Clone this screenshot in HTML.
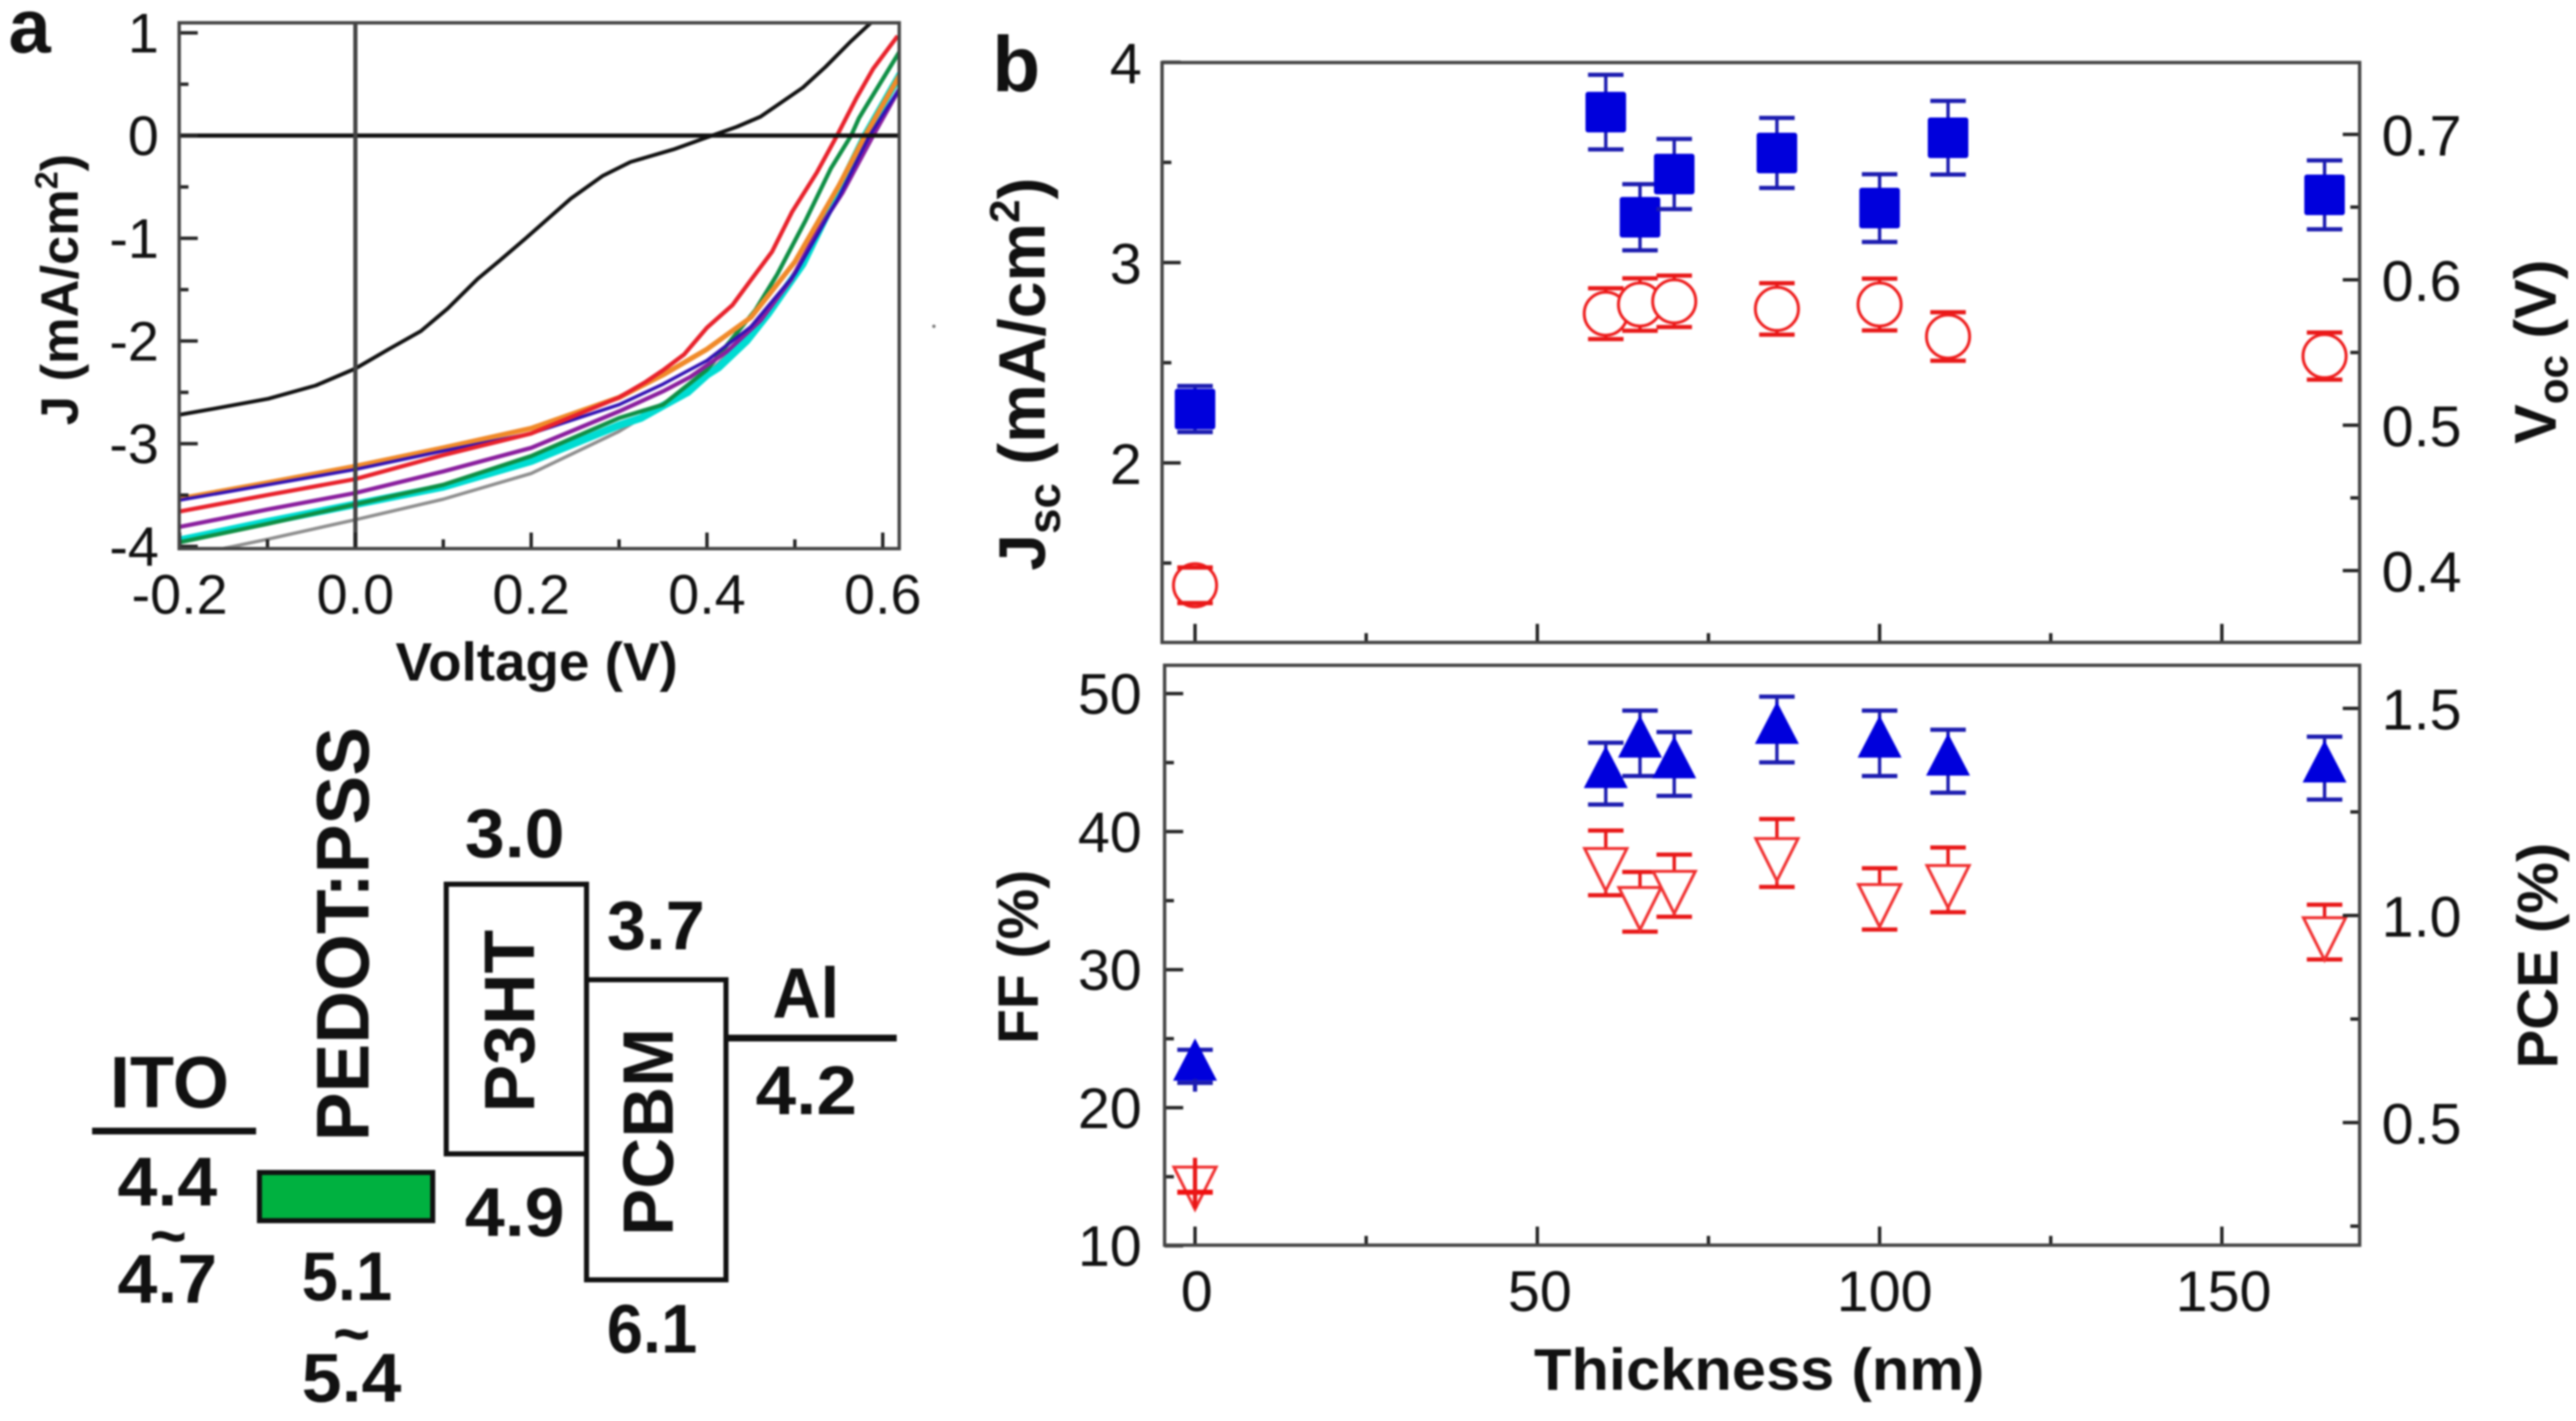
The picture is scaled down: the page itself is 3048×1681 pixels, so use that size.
<!DOCTYPE html>
<html lang="en">
<head>
<meta charset="utf-8">
<title>P3HT:PCBM device characteristics</title>
<style>
html,body{margin:0;padding:0;background:#fff;}
body{width:3048px;height:1681px;overflow:hidden;}
#chart{position:absolute;left:0;top:0;filter:blur(1.1px);}
text{font-family:"Liberation Sans",Arial,sans-serif;fill:#111;}
.b{font-weight:bold;}
</style>
</head>
<body>
<svg id="chart" xmlns="http://www.w3.org/2000/svg" width="3048" height="1681" viewBox="0 0 3048 1681">
  <rect width="3048" height="1681" fill="#fff"/>
  <defs>
    <clipPath id="clipA"><rect x="212" y="27" width="852" height="622"/></clipPath>
  </defs>

  <text class="b" x="10" y="62" font-size="90">a</text>
  <text class="b" x="1174" y="108" font-size="93">b</text>

  <g id="panelA"></g>
  <text class="b" x="468" y="805" font-size="64" textLength="334" lengthAdjust="spacingAndGlyphs">Voltage (V)</text>
  <text class="b" transform="translate(92,503) rotate(-90)" font-size="62">J (mA/cm<tspan dy="-24" font-size="38">2</tspan><tspan dy="24">)</tspan></text>

  <g id="panelB1"></g>
  <g id="panelB2"></g>

  <text class="b" transform="translate(1236,675) rotate(-90)" font-size="78">J<tspan dy="18" font-size="54">sc</tspan><tspan dy="-18"> (mA/cm</tspan><tspan dy="-30" font-size="50">2</tspan><tspan dy="30">)</tspan></text>
  <text class="b" transform="translate(3024,525) rotate(-90)" font-size="70">V<tspan dy="14" font-size="50">oc</tspan><tspan dy="-14"> (V)</tspan></text>
  <text class="b" transform="translate(1228,1235) rotate(-90)" font-size="68" textLength="206" lengthAdjust="spacingAndGlyphs">FF (%)</text>
  <text class="b" transform="translate(3026,1264) rotate(-90)" font-size="68" textLength="267" lengthAdjust="spacingAndGlyphs">PCE (%)</text>
  <text class="b" x="1815" y="1644" font-size="70" textLength="533" lengthAdjust="spacingAndGlyphs">Thickness (nm)</text>

  <circle cx="1105" cy="386" r="2" fill="#777"/>

  <g>
    <line x1="109" y1="1338" x2="303" y2="1338" stroke="#111" stroke-width="8"/>
    <text class="b" x="130" y="1310" font-size="86" textLength="141" lengthAdjust="spacingAndGlyphs">ITO</text>
    <text class="b" x="139" y="1426" font-size="82" textLength="118" lengthAdjust="spacingAndGlyphs">4.4</text>
    <text class="b" x="177" y="1489" font-size="80" textLength="44" lengthAdjust="spacingAndGlyphs">~</text>
    <text class="b" x="139" y="1541" font-size="82" textLength="118" lengthAdjust="spacingAndGlyphs">4.7</text>

    <rect x="307" y="1387" width="205" height="57" fill="#00b140" stroke="#111" stroke-width="6"/>
    <text class="b" transform="translate(436,1350) rotate(-90)" font-size="88" textLength="490" lengthAdjust="spacingAndGlyphs">PEDOT:PSS</text>
    <text class="b" x="357" y="1538" font-size="82" textLength="107" lengthAdjust="spacingAndGlyphs">5.1</text>
    <text class="b" x="394" y="1605" font-size="80" textLength="44" lengthAdjust="spacingAndGlyphs">~</text>
    <text class="b" x="357" y="1658" font-size="82" textLength="118" lengthAdjust="spacingAndGlyphs">5.4</text>

    <rect x="528" y="1046" width="166" height="319" fill="#fff" stroke="#111" stroke-width="6"/>
    <text class="b" transform="translate(632,1316) rotate(-90)" font-size="84" textLength="216" lengthAdjust="spacingAndGlyphs">P3HT</text>
    <text class="b" x="550" y="1014" font-size="82" textLength="118" lengthAdjust="spacingAndGlyphs">3.0</text>
    <text class="b" x="550" y="1462" font-size="82" textLength="118" lengthAdjust="spacingAndGlyphs">4.9</text>

    <rect x="694" y="1159" width="165" height="355" fill="#fff" stroke="#111" stroke-width="6"/>
    <text class="b" transform="translate(796,1462) rotate(-90)" font-size="84" textLength="246" lengthAdjust="spacingAndGlyphs">PCBM</text>
    <text class="b" x="718" y="1123" font-size="82" textLength="116" lengthAdjust="spacingAndGlyphs">3.7</text>
    <text class="b" x="718" y="1600" font-size="82" textLength="107" lengthAdjust="spacingAndGlyphs">6.1</text>

    <line x1="859" y1="1228" x2="1061" y2="1228" stroke="#111" stroke-width="8"/>
    <text class="b" x="914" y="1204" font-size="84" textLength="79" lengthAdjust="spacingAndGlyphs">Al</text>
    <text class="b" x="894" y="1318" font-size="82" textLength="120" lengthAdjust="spacingAndGlyphs">4.2</text>
  </g>
</svg>

<script>
// ---- Panel a data ----
const blackV = [-0.2,-0.16,-0.099,-0.045,0,0.038,0.0745,0.105,0.139,0.164,0.194,0.216,0.245,0.281,0.313,0.362,0.398,0.434,0.461,0.509,0.535,0.564,0.583,0.6];
const blackJ = [-2.718,-2.658,-2.562,-2.433,-2.268,-2.08,-1.904,-1.684,-1.396,-1.218,-0.998,-0.833,-0.614,-0.394,-0.257,-0.134,-0.024,0.086,0.184,0.467,0.67,0.92,1.07,1.2];
const orangeV = [-0.2,-0.1,0,0.1,0.2,0.3,0.35,0.4,0.45,0.5,0.55,0.58,0.62];
const orangeJ = [-3.536,-3.38,-3.22,-3.04,-2.85,-2.55,-2.33,-2.08,-1.77,-1.23,-0.49,0,0.6];
const indigoV = [-0.2,-0.1,0,0.1,0.2,0.3,0.35,0.4,0.45,0.5,0.55,0.585,0.62];
const indigoJ = [-3.55,-3.4,-3.25,-3.07,-2.9,-2.62,-2.42,-2.19,-1.86,-1.35,-0.6,0,0.47];
const redV = [-0.2,-0.1,0,0.1,0.2,0.3,0.33,0.35,0.374,0.4,0.429,0.448,0.474,0.497,0.525,0.548,0.57,0.589,0.617];
const redJ = [-3.66,-3.5,-3.344,-3.11,-2.9,-2.55,-2.4,-2.285,-2.13,-1.87,-1.65,-1.43,-1.13,-0.74,-0.36,0,0.365,0.65,0.97];
const purpleV = [-0.2,-0.1,0,0.1,0.2,0.3,0.35,0.381,0.423,0.461,0.496,0.525,0.554,0.589,0.62];
const purpleJ = [-3.81,-3.64,-3.48,-3.27,-3.04,-2.685,-2.49,-2.35,-2.1,-1.8,-1.4,-0.94,-0.56,0,0.47];
const greenV = [-0.2,-0.1,0,0.1,0.2,0.3,0.35,0.4,0.455,0.48,0.512,0.541,0.564,0.573,0.58,0.62];
const greenJ = [-3.96,-3.78,-3.59,-3.40,-3.12,-2.75,-2.62,-2.28,-1.7,-1.35,-0.83,-0.32,0,0.17,0.27,0.83];
const cyanV = [-0.2,-0.1,0,0.1,0.2,0.3,0.325,0.35,0.378,0.4,0.413,0.445,0.47,0.509,0.58,0.62];
const cyanJ = [-3.94,-3.76,-3.59,-3.42,-3.17,-2.82,-2.75,-2.63,-2.5,-2.33,-2.26,-2.0,-1.73,-1.25,0,0.6];
const grayV = [-0.15,-0.1,0,0.1,0.2,0.3,0.35,0.4,0.45,0.5,0.55,0.58,0.62];
const grayJ = [-4.02,-3.93,-3.74,-3.54,-3.29,-2.88,-2.62,-2.32,-1.92,-1.33,-0.55,0,0.62];
const aXTicks = [-0.2,-0.1,0,0.1,0.2,0.3,0.4,0.5,0.6];
const aXLabels = ["-0.2","0.0","0.2","0.4","0.6"];
const aXLabelValues = [-0.2,0,0.2,0.4,0.6];
const aYTicks = [1,0.5,0,-0.5,-1,-1.5,-2,-2.5,-3,-3.5,-4];
const aYLabels = ["1","0","-1","-2","-3","-4"];
const aYLabelValues = [1,0,-1,-2,-3,-4];

// ---- Panel b data ----
const thickness = [0,60,65,70,85,100,110,165];
const jsc = [2.269,3.751,3.226,3.442,3.547,3.272,3.623,3.338];
const jscErr = [0.115,0.186,0.165,0.175,0.175,0.169,0.184,0.172];
const voc = [0.3899,0.5767,0.583,0.5852,0.58,0.583,0.561,0.5475];
const vocErr = [0.0122,0.0175,0.018,0.0177,0.0177,0.0178,0.0167,0.0162];
const ff = [23.0,44.2,46.4,44.9,47.4,46.4,45.1,44.6];
const ffErr = [1.2,2.24,2.37,2.31,2.38,2.37,2.28,2.28];
const pce = [0.358,1.127,1.033,1.072,1.151,1.04,1.086,0.96];
const pceErr = [0.026,0.078,0.072,0.075,0.082,0.074,0.078,0.066];
const bXMajor = [0,50,100,150];
const bXMinor = [25,75,125];
const bXLabels = ["0","50","100","150"];
const jscTicks = [4,3,2];
const jscLabels = ["4","3","2"];
const jscMinor = [3.5,2.5,1.5];
const vocTicks = [0.7,0.6,0.5,0.4];
const vocLabels = ["0.7","0.6","0.5","0.4"];
const vocMinor = [0.65,0.55,0.45];
const ffTicks = [50,40,30,20,10];
const ffLabels = ["50","40","30","20","10"];
const ffMinor = [45,35,25,15];
const pceTicks = [1.5,1.0,0.5];
const pceLabels = ["1.5","1.0","0.5"];
const pceMinor = [1.25,0.75,0.25];

// ---- Axis functions ----
function xA(v){ return 420.5 + v*1040; }
function yA(j){ return 160.4 - j*121.5; }
function xB(t){ return 1414 + t*8.1; }
function yJsc(v){ return 73.6 + (4-v)*237; }
function yVoc(v){ return 159 + (0.7-v)*1720; }
function yFF(v){ return 820.5 + (50-v)*16.33; }
function yPCE(v){ return 838 + (1.5-v)*490; }

const NS = "http://www.w3.org/2000/svg";
function mk(parent, tag, attrs, txt){
  const e = document.createElementNS(NS, tag);
  for(const k in attrs){ e.setAttribute(k, attrs[k]); }
  if(txt !== undefined){ e.textContent = txt; }
  parent.appendChild(e);
  return e;
}
function addLine(parent, x1, y1, x2, y2, stroke, w, name){
  const e = mk(parent,'line',{x1:x1,y1:y1,x2:x2,y2:y2,stroke:stroke,'stroke-width':w});
  
  
  return e;
}
function addLabel(parent, x, y, anchor, size, txt, name){
  const e = mk(parent,'text',{x:x,y:y,'text-anchor':anchor,'font-size':size},txt);
  
  
  return e;
}
function addFrame(parent, x, y, w, h, name){
  const e = mk(parent,'rect',{x:x,y:y,width:w,height:h,fill:'none',stroke:'#444','stroke-width':4});
  
  
  return e;
}

// ---- Panel a ----
(function(){
  const g = document.getElementById('panelA');
  const L = 212, R = 1064, T = 27, B = 649;
  const clip = mk(g,'g',{'clip-path':'url(#clipA)'});
  
  
  const series = [
    ['gray-curve',grayV,grayJ,'#8e8e8e',4],
    ['cyan-curve',cyanV,cyanJ,'#00dcd2',9],
    ['green-curve',greenV,greenJ,'#0f8f45',5],
    ['purple-curve',purpleV,purpleJ,'#8a1f9e',5],
    ['orange-curve',orangeV,orangeJ,'#f08a2a',6],
    ['indigo-curve',indigoV,indigoJ,'#3312b4',4],
    ['red-curve',redV,redJ,'#e8222c',5],
    ['black-curve',blackV,blackJ,'#111111',4.5]
  ];
  series.forEach(function(s){
    const pts = s[1].map(function(v,i){ return xA(v).toFixed(1)+','+yA(s[2][i]).toFixed(1); }).join(' ');
    const p = mk(clip,'polyline',{points:pts,fill:'none',stroke:s[3],'stroke-width':s[4],'stroke-linejoin':'round'});
    
    
  });
  addLine(g,L,yA(0),R,yA(0),'#111',5,'zero-current-line');
  addLine(g,xA(0),T,xA(0),B,'#444',5,'zero-voltage-line');
  aXTicks.forEach(function(v){
    const major = aXLabelValues.some(function(m){ return Math.abs(m-v)<1e-6; });
    addLine(g,xA(v),B,xA(v),B-(major?19:11),'#222',4,'x-tick');
  });
  aYTicks.forEach(function(v){
    const major = aYLabelValues.indexOf(v)>=0;
    addLine(g,L,yA(v),L+(major?22:11),yA(v),'#222',4,'y-tick');
  });
  aXLabels.forEach(function(t,i){ addLabel(g,xA(aXLabelValues[i]),726,'middle',66,t,'x-tick-label'); });
  aYLabels.forEach(function(t,i){ addLabel(g,188,yA(aYLabelValues[i])+23,'end',66,t,'y-tick-label'); });
  addFrame(g,L,T,R-L,B-T,'plot-frame-a');
})();

// ---- Panel b helpers ----
function drawErr(g, x, yTop, yBot, color, name){
  addLine(g,x,yTop,x,yBot,color,4,name+'-stem');
  addLine(g,x-21,yTop,x+21,yTop,color,5,name+'-cap');
  addLine(g,x-21,yBot,x+21,yBot,color,5,name+'-cap');
}
function drawAxes(g, L, R, T, B, leftFn, leftTicks, leftLabels, leftMinor, rightFn, rightTicks, rightLabels, rightMinor, leftDy, prefix){
  bXMajor.forEach(function(v){ addLine(g,xB(v),B,xB(v),B-22,'#222',4,prefix+'-x-tick'); });
  bXMinor.forEach(function(v){ addLine(g,xB(v),B,xB(v),B-11,'#222',4,prefix+'-x-minor-tick'); });
  leftTicks.forEach(function(v,i){
    addLine(g,L,leftFn(v),L+22,leftFn(v),'#222',4,prefix+'-left-tick');
    addLabel(g,1351,leftFn(v)+leftDy,'end',68,leftLabels[i],prefix+'-left-tick-label');
  });
  leftMinor.forEach(function(v){ addLine(g,L,leftFn(v),L+11,leftFn(v),'#222',4,prefix+'-left-minor-tick'); });
  rightTicks.forEach(function(v,i){
    addLine(g,R,rightFn(v),R-20,rightFn(v),'#222',4,prefix+'-right-tick');
    addLabel(g,2818,rightFn(v)+25,'start',68,rightLabels[i],prefix+'-right-tick-label');
  });
  rightMinor.forEach(function(v){ addLine(g,R,rightFn(v),R-11,rightFn(v),'#222',4,prefix+'-right-minor-tick'); });
  addFrame(g,L,T,R-L,B-T,prefix+'-frame');
}

// ---- Panel b upper ----
(function(){
  const g = document.getElementById('panelB1');
  const L = 1375, R = 2792, T = 74, B = 760;
  thickness.forEach(function(t,i){
    const x = xB(t);
    drawErr(g,x,yVoc(voc[i]+vocErr[i]),yVoc(voc[i]-vocErr[i]),'#e81818','voc-error');
    const c = mk(g,'circle',{cx:x,cy:yVoc(voc[i]),r:25.5,fill:'#fff',stroke:'#ee1c1c','stroke-width':3.5});
    
    
    if(t===0){
      addLine(g,x-21,yVoc(voc[i]+vocErr[i]),x+21,yVoc(voc[i]+vocErr[i]),'#e81818',5,'voc-error-cap');
      addLine(g,x-21,yVoc(voc[i]-vocErr[i]),x+21,yVoc(voc[i]-vocErr[i]),'#e81818',5,'voc-error-cap');
    }
  });
  thickness.forEach(function(t,i){
    const x = xB(t);
    drawErr(g,x,yJsc(jsc[i]+jscErr[i]),yJsc(jsc[i]-jscErr[i]),'#1c1cb0','jsc-error');
    const r = mk(g,'rect',{x:x-24,y:yJsc(jsc[i])-24,width:48,height:48,rx:3,fill:'#0000dc'});
    
    
  });
  drawAxes(g,L,R,T,B,yJsc,jscTicks,jscLabels,jscMinor,yVoc,vocTicks,vocLabels,vocMinor,25,'top');
})();

// ---- Panel b lower ----
(function(){
  const g = document.getElementById('panelB2');
  const L = 1378, R = 2792, T = 787, B = 1473;
  thickness.forEach(function(t,i){
    const x = xB(t), y = yPCE(pce[i]);
    drawErr(g,x,yPCE(pce[i]+pceErr[i]),yPCE(pce[i]-pceErr[i]),'#e81818','pce-error');
    const p = mk(g,'polygon',{points:(x-25)+','+(y-17)+' '+(x+25)+','+(y-17)+' '+x+','+(y+33),fill:'#fff',stroke:'#f03030','stroke-width':3.5});
    
    
    if(t===0){
      addLine(g,x-21,yPCE(pce[i]-pceErr[i]),x+21,yPCE(pce[i]-pceErr[i]),'#f01010',6,'pce-error-cap');
      addLine(g,x,y-28,x,y+32,'#e81818',5,'pce-error-stem');
    }
  });
  thickness.forEach(function(t,i){
    const x = xB(t), y = yFF(ff[i]);
    drawErr(g,x,yFF(ff[i]+ffErr[i]),yFF(ff[i]-ffErr[i]),'#1c1cb0','ff-error');
    const p = mk(g,'polygon',{points:(x-26)+','+(y+17)+' '+(x+26)+','+(y+17)+' '+x+','+(y-33),fill:'#0000dc'});
    
    
    if(t===0){
      addLine(g,x,y+15,x,y+30,'#1c1cb0',5,'ff-error-stem');
    }
  });
  drawAxes(g,L,R,T,B,yFF,ffTicks,ffLabels,ffMinor,yPCE,pceTicks,pceLabels,pceMinor,24,'bottom');
  bXLabels.forEach(function(t,i){ addLabel(g,xB(bXMajor[i])+(i===2?6:i===1?3:2),1551,'middle',68,t,'x-tick-label'); });
})();
</script>
</body>
</html>
